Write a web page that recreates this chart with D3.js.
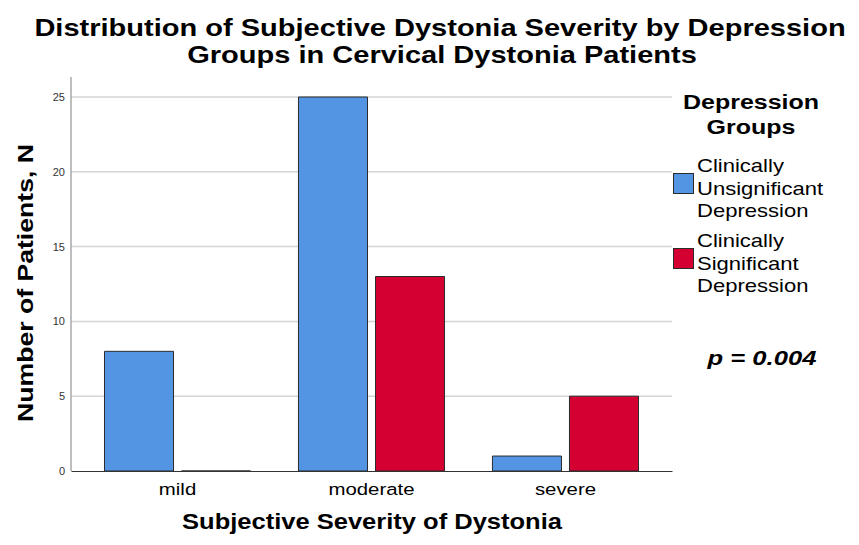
<!DOCTYPE html>
<html>
<head>
<meta charset="utf-8">
<script src="https://cdn.jsdelivr.net/npm/d3@7"></script>
<style>
  html, body { margin: 0; padding: 0; background: #fff; }
  svg { display: block; font-family: "Liberation Sans", Arial, sans-serif; }
</style>
</head>
<body>
<svg id="chart" width="859" height="545"></svg>
<script>
// Severity categories on the x axis
const categories = ["mild", "moderate", "severe"];
// Depression groups (legend entries)
const groups = ["Clinically Unsignificant Depression", "Clinically Significant Depression"];
const groupLines = [["Clinically", "Unsignificant", "Depression"], ["Clinically", "Significant", "Depression"]];
// Patient counts per severity category, one array per group
const unsignificantCounts = [8, 25, 1];
const significantCounts = [0, 13, 5];
const yTicks = [0, 5, 10, 15, 20, 25];
const colors = ["#5394E3", "#D50032"];

const svg = d3.select("#chart");
const plot = { left: 71, right: 672, top: 77, bottom: 471 };

// Text in this chart uses a slightly widened face; sx stretches it horizontally.
function wideText(parent, x, y, size, sx, opts = {}) {
  const t = parent.append("text")
    .attr("transform", `translate(${x},${y})${opts.rotate ? ` rotate(${opts.rotate})` : ""} scale(${sx},1)`)
    .attr("text-anchor", opts.anchor || "middle")
    .attr("font-size", size)
    .attr("fill", "#000");
  if (opts.bold) t.attr("font-weight", "bold");
  if (opts.italic) t.attr("font-style", "italic");
  return t;
}

const x = d3.scaleBand()
  .domain(categories)
  .range([plot.left, plot.right])
  .paddingInner(0.247)
  .paddingOuter(0.1727);

const xSub = d3.scaleBand()
  .domain(groups)
  .range([0, x.bandwidth()])
  .paddingInner(0.104);

const y = d3.scaleLinear()
  .domain([0, 25])
  .range([plot.bottom, 97]);

// Horizontal gridlines
svg.append("g")
  .selectAll("line")
  .data(yTicks.filter(d => d > 0))
  .join("line")
  .attr("x1", plot.left)
  .attr("x2", plot.right)
  .attr("y1", d => y(d))
  .attr("y2", d => y(d))
  .attr("stroke", "#d4d4d4")
  .attr("stroke-width", 1.5);

// Y axis
const yAxis = svg.append("g")
  .attr("transform", `translate(${plot.left},0)`)
  .call(d3.axisLeft(y).tickValues(yTicks).tickSize(0).tickPadding(6));
yAxis.select(".domain").remove();
yAxis.selectAll("text")
  .attr("font-family", "Liberation Sans, Arial, sans-serif")
  .attr("font-size", 11)
  .attr("fill", "#333");
svg.append("line")
  .attr("x1", plot.left).attr("x2", plot.left)
  .attr("y1", plot.top).attr("y2", plot.bottom)
  .attr("stroke", "#a8a8a8")
  .attr("stroke-width", 1.5);

// Bars (paths, so a zero count still shows as an outlined line on the baseline)
const series = [unsignificantCounts, significantCounts];
const barData = [];
categories.forEach((c, i) => {
  groups.forEach((g, j) => {
    barData.push({ category: c, group: g, value: series[j][i], color: colors[j] });
  });
});

svg.append("g")
  .selectAll("path")
  .data(barData)
  .join("path")
  .attr("d", d => {
    const x0 = x(d.category) + xSub(d.group);
    const w = xSub.bandwidth();
    return `M${x0},${y(0)}V${y(d.value)}h${w}V${y(0)}Z`;
  })
  .attr("fill", d => d.color)
  .attr("stroke", "#2b2b2b")
  .attr("stroke-width", 1);

// X axis
const xAxis = svg.append("g")
  .attr("transform", `translate(0,${plot.bottom})`)
  .call(d3.axisBottom(x).tickSize(0).tickFormat(""));
xAxis.select(".domain")
  .attr("stroke", "#333")
  .attr("stroke-width", 1.2);
categories.forEach(c => {
  wideText(svg, x(c) + x.bandwidth() / 2, 495, 17, 1.2).text(c);
});

// Title
wideText(svg, 440, 36, 24, 1.21, { bold: true })
  .text("Distribution of Subjective Dystonia Severity by Depression");
wideText(svg, 442, 63, 24, 1.21, { bold: true })
  .text("Groups in Cervical Dystonia Patients");

// Axis titles
wideText(svg, 33, 283, 22, 1.21, { bold: true, rotate: -90 })
  .text("Number of Patients, N");
wideText(svg, 372, 529, 22, 1.16, { bold: true })
  .text("Subjective Severity of Dystonia");

// Legend
const legend = svg.append("g");
wideText(legend, 751, 109, 20, 1.25, { bold: true }).text("Depression");
wideText(legend, 751, 134, 20, 1.25, { bold: true }).text("Groups");

groups.forEach((g, j) => {
  const top = 173 + j * 75;
  legend.append("rect")
    .attr("x", 673.5).attr("y", top + 0.5)
    .attr("width", 20).attr("height", 20)
    .attr("fill", colors[j])
    .attr("stroke", "#2b2b2b")
    .attr("stroke-width", 1);
  groupLines[j].forEach((line, k) => {
    wideText(legend, 697, top - 1 + k * 22.5, 19, 1.16, { anchor: "start" }).text(line);
  });
});

// Test result annotation
wideText(svg, 762, 365, 20, 1.28, { bold: true, italic: true }).text("p = 0.004");
</script>
</body>
</html>
